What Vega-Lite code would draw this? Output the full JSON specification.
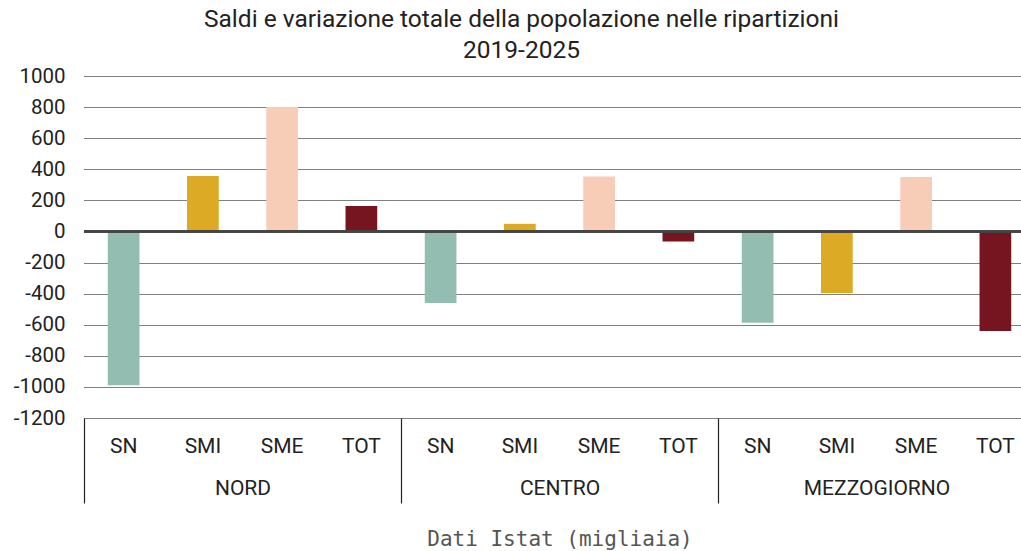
{
  "$schema": "https://vega.github.io/schema/vega-lite/v6.json",
  "autosize": "none",
  "width": 937,
  "height": 342,
  "padding": {"left": 84, "top": 76, "right": 0, "bottom": 133},
  "background": "white",
  "config": {
    "view": {"stroke": null},
    "font": "Roboto",
    "axisY": {
      "title": null,
      "values": [-1200, -1000, -800, -600, -400, -200, 0, 200, 400, 600, 800, 1000],
      "labelExpr": "'' + datum.value",
      "labelOverlap": false,
      "labelFont": "Roboto",
      "labelFontSize": 20.5,
      "labelColor": "#222222",
      "labelPadding": 19,
      "ticks": false,
      "domain": false,
      "grid": true,
      "gridColor": "#000000",
      "gridDash": [1, 1],
      "gridWidth": 1.2
    }
  },
  "title": {
    "text": ["Saldi e variazione totale della popolazione nelle ripartizioni", "2019-2025"],
    "font": "Roboto",
    "fontSize": 24.5,
    "fontWeight": "normal",
    "color": "#222222",
    "lineHeight": 31,
    "anchor": "middle",
    "dx": -31,
    "offset": 3
  },
  "data": {
    "values": [
      {"key": "NORD|SN", "region": "NORD", "comp": "SN", "value": -990},
      {"key": "NORD|SMI", "region": "NORD", "comp": "SMI", "value": 356},
      {"key": "NORD|SME", "region": "NORD", "comp": "SME", "value": 800},
      {"key": "NORD|TOT", "region": "NORD", "comp": "TOT", "value": 163},
      {"key": "CENTRO|SN", "region": "CENTRO", "comp": "SN", "value": -460},
      {"key": "CENTRO|SMI", "region": "CENTRO", "comp": "SMI", "value": 49},
      {"key": "CENTRO|SME", "region": "CENTRO", "comp": "SME", "value": 354},
      {"key": "CENTRO|TOT", "region": "CENTRO", "comp": "TOT", "value": -64},
      {"key": "MEZZOGIORNO|SN", "region": "MEZZOGIORNO", "comp": "SN", "value": -588},
      {"key": "MEZZOGIORNO|SMI", "region": "MEZZOGIORNO", "comp": "SMI", "value": -396},
      {"key": "MEZZOGIORNO|SME", "region": "MEZZOGIORNO", "comp": "SME", "value": 351},
      {"key": "MEZZOGIORNO|TOT", "region": "MEZZOGIORNO", "comp": "TOT", "value": -640}
    ]
  },
  "layer": [
    {
      "mark": {"type": "bar"},
      "encoding": {
        "x": {
          "field": "key",
          "type": "nominal",
          "sort": null,
          "scale": {"range": [0, 951], "paddingInner": 0.6, "paddingOuter": 0.3},
          "axis": {
            "orient": "bottom",
            "title": null,
            "labelExpr": "split(datum.label, '|')[1]",
            "labelAngle": 0,
            "labelFont": "Roboto",
            "labelFontSize": 21,
            "labelColor": "#222222",
            "labelBaseline": "middle",
            "labelPadding": 28,
            "ticks": false,
            "domain": false,
            "grid": false
          }
        },
        "y": {
          "field": "value",
          "type": "quantitative",
          "scale": {"domain": [-1200, 1000], "nice": false, "zero": false},
          "axis": {"values": [-1200, -1000, -800, -600, -400, -200, 0, 200, 400, 600, 800, 1000]}
        },
        "color": {
          "field": "comp",
          "type": "nominal",
          "scale": {"domain": ["SN", "SMI", "SME", "TOT"], "range": ["#93bdb0", "#dcaa24", "#f8cdb8", "#76151f"]},
          "legend": null
        }
      }
    },
    {
      "mark": {"type": "rule", "color": "#444444", "strokeWidth": 1.5},
      "encoding": {"y": {"datum": 0, "axis": {"values": [-1200, -1000, -800, -600, -400, -200, 0, 200, 400, 600, 800, 1000]}}}
    },
    {
      "mark": {"type": "text", "text": "", "opacity": 0},
      "encoding": {
        "x": {
          "field": "region",
          "type": "nominal",
          "sort": null,
          "scale": {"range": [0, 951], "paddingInner": 0, "paddingOuter": 0},
          "axis": {
            "orient": "bottom",
            "title": "Dati Istat (migliaia)",
            "titleFont": "DejaVu Sans Mono",
            "titleFontSize": 21,
            "titleFontWeight": "normal",
            "titleColor": "#555555",
            "titlePadding": 25,
            "labelAngle": 0,
            "labelFont": "Roboto",
            "labelFontSize": 21,
            "labelColor": "#222222",
            "labelBaseline": "middle",
            "labelPadding": -15,
            "tickBand": "extent",
            "ticks": true,
            "tickSize": 85,
            "tickColor": "#222222",
            "tickWidth": 1.2,
            "domain": false,
            "grid": false
          }
        }
      }
    }
  ],
  "resolve": {"scale": {"x": "independent"}, "axis": {"x": "independent"}}
}
